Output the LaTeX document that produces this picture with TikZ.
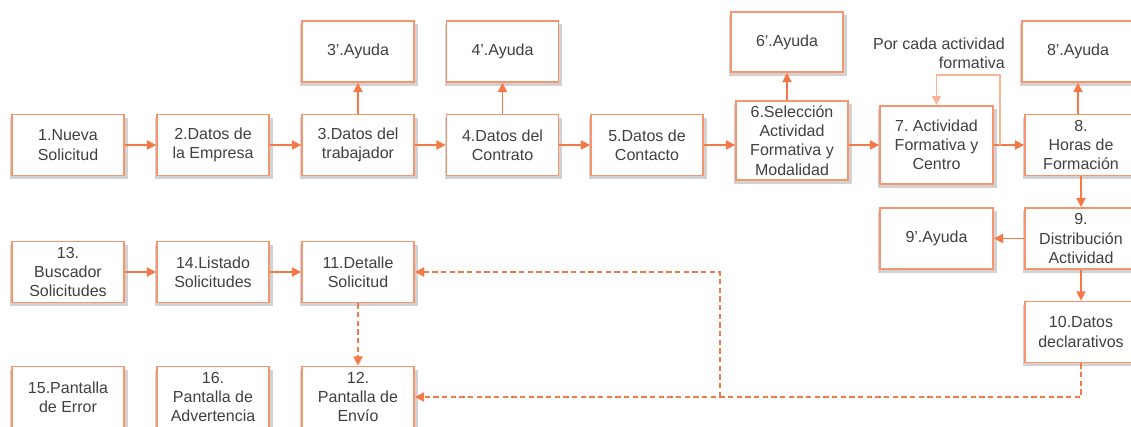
\documentclass[tikz,border=0pt]{standalone}
\usepackage{fontspec}
\setmainfont{Liberation Sans}
\usepackage{tikz}
\usetikzlibrary{calc,arrows.meta,backgrounds}
\frenchspacing

\definecolor{boxline}{RGB}{247,150,110}
\definecolor{arrline}{RGB}{244,121,72}
\definecolor{loopline}{RGB}{250,180,150}
\definecolor{txt}{RGB}{64,64,64}
\definecolor{sombra}{RGB}{210,210,210}

\begin{document}
\begin{tikzpicture}[x=0.75pt, y=-0.75pt,
  pantalla/.style={draw=boxline, line width=1.3pt, fill=white, text=txt,
    minimum width=84pt, minimum height=45.75pt, inner sep=0pt, align=center,
    font=\fontsize{12}{14.4}\selectfont},
  flecha/.style={draw=arrline, line width=1.1pt, -{Triangle[length=7pt,width=7pt]}},
  trazos/.style={flecha, dashed, dash pattern=on 4pt off 2.5pt},
  bucle/.style={flecha, draw=loopline}]
\useasboundingbox (0,0) rectangle (1131,426);

% fila superior
\node[pantalla] (n1) at (68,145) {1.Nueva\\Solicitud};
\node[pantalla] (n2) at (213,145) {2.Datos de\\la Empresa};
\node[pantalla] (n3) at (358,145) {3.Datos del\\trabajador};
\node[pantalla] (n3a) at (358,51.5) {3'.Ayuda};
\node[pantalla] (n4) at (502.5,145) {4.Datos del\\Contrato};
\node[pantalla] (n4a) at (502.5,51.5) {4'.Ayuda};
\node[pantalla] (n5) at (647,145) {5.Datos de\\Contacto};
\node[pantalla, minimum height=59.25pt] (n6) at (792,140.5) {6.Selección\\Actividad\\Formativa y\\Modalidad};
\node[pantalla, minimum height=45pt] (n6a) at (787,42) {6'.Ayuda};
\node[pantalla, minimum width=84.75pt, minimum height=58.5pt] (n7) at (936.5,145) {7. Actividad\\Formativa y\\Centro};
\node[pantalla] (n8) at (1081,145) {8.\\Horas de\\Formación};
\node[pantalla] (n8a) at (1078,51.5) {8'.Ayuda};
\node[pantalla] (n9) at (1081,238.5) {9.\\Distribución\\Actividad};
\node[pantalla, minimum width=84.75pt] (n9a) at (936.5,238.5) {9'.Ayuda};
\node[pantalla] (n10) at (1081,332) {10.Datos\\declarativos};

% filas inferiores
\node[pantalla] (n13) at (68,272) {13.\\Buscador\\Solicitudes};
\node[pantalla] (n14) at (213,272) {14.Listado\\Solicitudes};
\node[pantalla] (n11) at (358,272) {11.Detalle\\Solicitud};
\node[pantalla] (n15) at (68,397) {15.Pantalla\\de Error};
\node[pantalla] (n16) at (213,397) {16.\\Pantalla de\\Advertencia};
\node[pantalla] (n12) at (358,397) {12.\\Pantalla de\\Envío};

\node[text=txt, align=right, anchor=east, inner sep=0pt,
  font=\fontsize{12}{14.4}\selectfont] (etiq) at (1005,53) {Por cada actividad\\formativa};

% sombras
\begin{scope}[on background layer]
\foreach \n in {n1,n2,n3,n3a,n4,n4a,n5,n6,n6a,n7,n8,n8a,n9,n9a,n10,n13,n14,n11,n15,n16,n12}
  \fill[sombra] ($(\n.south west)+(-1,3)$) rectangle ($(\n.north east)+(3,4)$);
\end{scope}

\draw[flecha] (n1) -- (n2);
\draw[flecha] (n2) -- (n3);
\draw[flecha] (n3) -- (n4);
\draw[flecha] (n4) -- (n5);
\draw[flecha] (n5) -- (n6.west |- n5.east);
\draw[flecha] (n6.east |- n7.west) -- (n7);
\draw[flecha] (n7) -- (n8);
\draw[flecha] (n3) -- (n3a);
\draw[flecha] (n4) -- (n4a);
\draw[flecha] (n6a.south |- n6.north) -- (n6a);
\draw[flecha] (n8a.south |- n8.north) -- (n8a);
\draw[flecha] (n8) -- (n9);
\draw[flecha] (n9) -- (n9a);
\draw[flecha] (n9) -- (n10);
\draw[flecha] (n13) -- (n14);
\draw[flecha] (n14) -- (n11);

% bucle por actividad
\coordinate (b1) at (1000,145);
\coordinate (b2) at (1000,75);
\draw[bucle] (b1) -- (b2) -| (n7.north);

% retornos discontinuos
\coordinate (d1) at (n10.south |- n12.east);
\coordinate (d2) at (720,397);
\draw[trazos] (n11) -- (n12);
\draw[trazos] (n10) -- (d1) -- (n12.east);
\draw[trazos] (d2) |- (n11.east);
\end{tikzpicture}
\end{document}
